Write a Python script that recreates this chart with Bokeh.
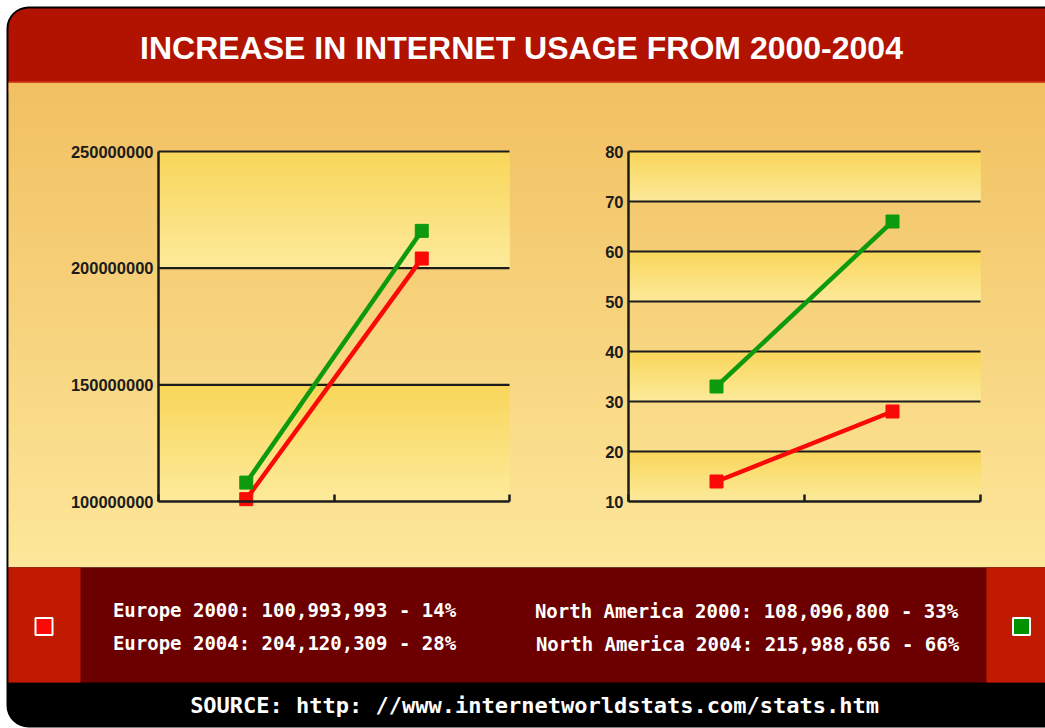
import numpy as np
from bokeh.plotting import figure
from bokeh.models import Range1d, LinearAxis, FixedTicker, ColumnDataSource
from bokeh.core.properties import value
from bokeh.embed import file_html
from bokeh.resources import INLINE

W, H = 1045, 728

# ---------------- data ----------------
years = ["2000", "2004"]
europe_users = [100993993, 204120309]
north_america_users = [108096800, 215988656]
europe_pct = [14, 28]
north_america_pct = [33, 66]
users_ticks = [100000000, 150000000, 200000000, 250000000]
users_tick_labels = ["100000000", "150000000", "200000000", "250000000"]
pct_ticks = [10, 20, 30, 40, 50, 60, 70, 80]
pct_tick_labels = ["10", "20", "30", "40", "50", "60", "70", "80"]
title_text = "INCREASE IN INTERNET USAGE FROM 2000-2004"
source_text = "SOURCE: http: //www.internetworldstats.com/stats.htm"

# ---------------- styles ----------------
SANS = "Liberation Sans"
MONO = "DejaVu Sans Mono"
RED = "#fa0a06"
GREEN = "#0e9a0e"
AXIS = "#1c1c1c"
BG_TOP, BG_BOT = "#f1c061", "#fde79a"
BAND_TOP, BAND_BOT = "#f9d659", "#fdeb9c"


def hx(c):
    c = c.lstrip("#")
    return np.array([int(c[i:i + 2], 16) for i in (0, 2, 4)], dtype=float)


def lerp(c0, c1, t):
    a, b = hx(c0), hx(c1)
    r = a + (b - a) * t
    return "#%02x%02x%02x" % tuple(int(round(v)) for v in r)


def fit(d0, d1, p0, p1, total):
    k = (p1 - p0) / (d1 - d0)
    start = d0 - p0 / k
    return Range1d(start=start, end=start + total / k)


p = figure(width=W, height=H, output_backend="svg", toolbar_location=None,
           x_range=Range1d(0, W), y_range=Range1d(H, 0),
           x_axis_location=None, y_axis_location=None, min_border=0,
           background_fill_color="white", border_fill_color="white")
p.outline_line_color = None
p.grid.visible = False

# chart boxes (pixels)
L_BOX = (158, 151, 509, 501)
R_BOX = (628, 151, 980, 501)
n = len(years)
p.extra_x_ranges = {
    "lx": fit(0, n, L_BOX[0], L_BOX[2], W),
    "rx": fit(0, n, R_BOX[0], R_BOX[2], W),
}
p.extra_y_ranges = {
    "ly": fit(users_ticks[0], users_ticks[-1], H - L_BOX[3], H - L_BOX[1], H),
    "ry": fit(pct_ticks[0], pct_ticks[-1], H - R_BOX[3], H - R_BOX[1], H),
}

# ---------------- frame & panels ----------------
p.quad(left=[6], right=[1068], top=[6], bottom=[727], fill_color="black",
       line_color=None, border_radius=22)
p.quad(left=[8], right=[1066], top=[8], bottom=[110], fill_color="#b21200",
       line_color=None, border_radius=20)

# background gradient
y0s = np.arange(82, 567, 2)
bg = ColumnDataSource(dict(
    top=y0s, bottom=np.minimum(y0s + 2.5, 567),
    c=[lerp(BG_TOP, BG_BOT, (y - 82) / (567 - 82)) for y in y0s]))
p.quad(left=8, right=W, top="top", bottom="bottom", fill_color="c", line_color=None, source=bg)
p.segment(x0=[8], x1=[W], y0=[81.5], y1=[81.5], line_color="#cf3d1c", line_width=1.5)

# legend band
p.quad(left=[8], right=[W], top=[567], bottom=[682], fill_color="#6c0000", line_color=None)
p.quad(left=[8, 986], right=[80, W], top=[567, 567], bottom=[682, 682],
       fill_color="#c01a00", line_color=None)


def draw_chart(xr, yr, ticks, labels, series):
    nb = len(ticks) - 1
    tops, bots, cols = [], [], []
    m = 40
    for i in range(nb):
        if (nb - 1 - i) % 2:
            continue
        lo, hi = ticks[i], ticks[i + 1]
        for j in range(m):
            tops.append(hi - (hi - lo) * j / m)
            bots.append(hi - (hi - lo) * (j + 1) / m)
            cols.append(lerp(BAND_TOP, BAND_BOT, (j + 0.5) / m))
    src = ColumnDataSource(dict(top=tops, bottom=bots, c=cols))
    p.quad(left=0, right=n, top="top", bottom="bottom", fill_color="c", line_color="c",
           line_width=0.6, source=src, x_range_name=xr, y_range_name=yr)
    p.segment(x0=0, x1=n, y0=ticks[1:], y1=ticks[1:], line_color=AXIS, line_width=2.2,
              x_range_name=xr, y_range_name=yr)

    ya = LinearAxis(x_range_name=xr, y_range_name=yr, fixed_location=0,
                    bounds=(ticks[0], ticks[-1]),
                    ticker=FixedTicker(ticks=ticks, minor_ticks=[]),
                    major_label_overrides={t: l for t, l in zip(ticks, labels)})
    ya.axis_line_width = 2.5
    ya.axis_line_color = AXIS
    ya.major_tick_out = 0
    ya.major_tick_in = 0
    ya.major_tick_line_color = None
    ya.minor_tick_line_color = None
    ya.major_label_text_font = SANS
    ya.major_label_text_font_style = "bold"
    ya.major_label_text_font_size = "16.5px"
    ya.major_label_text_color = AXIS
    ya.major_label_standoff = 5
    p.add_layout(ya, "left")

    xa = LinearAxis(x_range_name=xr, y_range_name=yr, fixed_location=ticks[0],
                    bounds=(0, n), ticker=FixedTicker(ticks=list(range(n + 1)), minor_ticks=[]))
    xa.axis_line_width = 2.5
    xa.axis_line_color = AXIS
    xa.major_tick_in = 7
    xa.major_tick_out = 0
    xa.major_tick_line_width = 2.5
    xa.major_tick_line_color = AXIS
    xa.minor_tick_line_color = None
    xa.major_label_text_color = None
    p.add_layout(xa, "below")

    xs = [i + 0.5 for i in range(n)]
    for vals, col in series:
        p.line(xs, vals, line_color=col, line_width=4.5, x_range_name=xr, y_range_name=yr)
        p.scatter(xs, vals, marker="square", size=13, fill_color=col, line_color=col,
                  x_range_name=xr, y_range_name=yr)


draw_chart("lx", "ly", users_ticks, users_tick_labels,
           [(europe_users, RED), (north_america_users, GREEN)])
draw_chart("rx", "ry", pct_ticks, pct_tick_labels,
           [(europe_pct, RED), (north_america_pct, GREEN)])

# ---------------- texts ----------------
p.text(x=[521], y=[47], text=[title_text], text_font=value(SANS), text_font_style="bold",
       text_font_size="32px", text_color="white", text_align="center", text_baseline="middle")

eu_lines = [f"Europe {y}: {v:,} - {pc}%" for y, v, pc in zip(years, europe_users, europe_pct)]
na_lines = [f"North America {y}: {v:,} - {pc}%"
            for y, v, pc in zip(years, north_america_users, north_america_pct)]
p.text(x=[284, 284], y=[609, 642], text=eu_lines, text_font=value(MONO), text_font_style="bold",
       text_font_size="19px", text_color="white", text_align="center", text_baseline="middle")
p.text(x=[746, 747], y=[610, 643], text=na_lines, text_font=value(MONO), text_font_style="bold",
       text_font_size="19px", text_color="white", text_align="center", text_baseline="middle")
p.text(x=[534], y=[705], text=[source_text], text_font=value(MONO), text_font_style="bold",
       text_font_size="22px", text_color="white", text_align="center", text_baseline="middle")

# legend swatches
p.scatter(x=[43.5], y=[626], marker="square", size=17, fill_color=RED, line_color="white", line_width=2)
p.scatter(x=[1021], y=[626], marker="square", size=17, fill_color="#009000", line_color="white", line_width=2)

open("out.html", "w").write(file_html(p, INLINE))
